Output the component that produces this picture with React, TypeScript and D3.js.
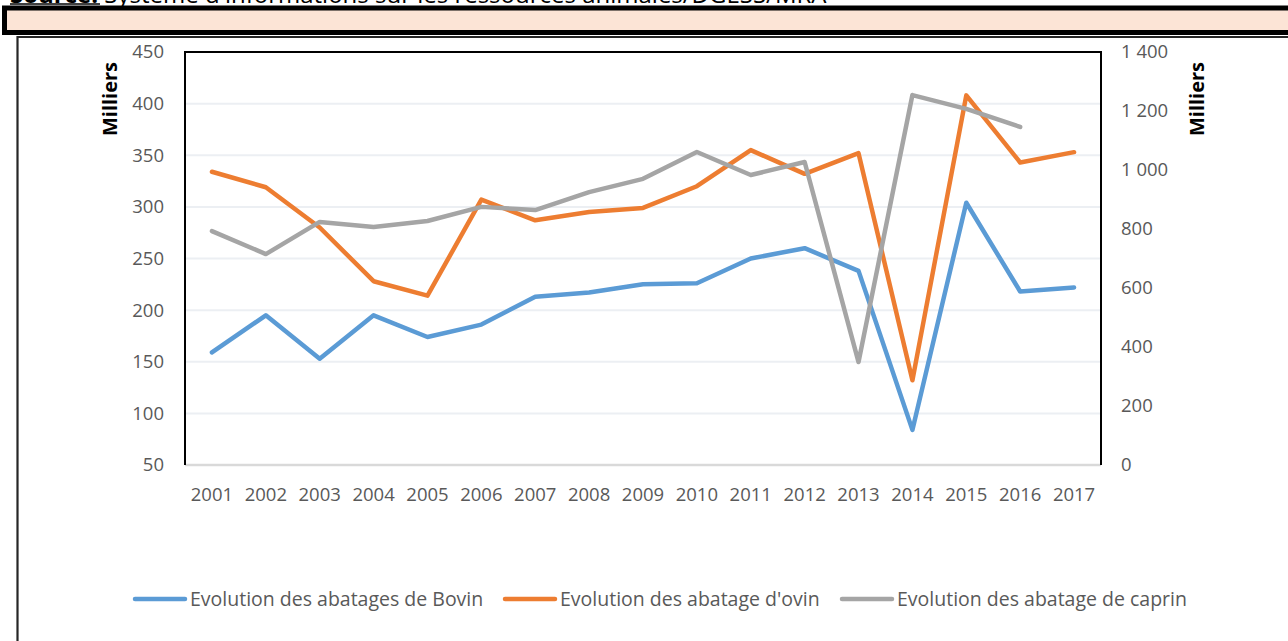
import React from "react";
import * as d3 from "d3";

const years = ["2001","2002","2003","2004","2005","2006","2007","2008","2009","2010","2011","2012","2013","2014","2015","2016","2017"];
const bovin = [159, 195, 153, 195, 174, 186, 213, 217, 225, 226, 250, 260, 238, 84, 304, 218, 222];
const ovin = [334, 319, 280, 228, 214, 307, 287, 295, 299, 320, 355, 332, 352, 132, 408, 343, 353];
const caprin: (number | null)[] = [793, 715, 824, 807, 827, 875, 864, 925, 970, 1061, 983, 1027, 349, 1254, 1207, 1146, null];
const leftTicks = [50, 100, 150, 200, 250, 300, 350, 400, 450];
const rightTicks = [0, 200, 400, 600, 800, 1000, 1200, 1400];
const seriesNames = ["Evolution des abatages de Bovin", "Evolution des abatage d'ovin", "Evolution des abatage de caprin"];
const colors = ["#5b9bd5", "#ed7d31", "#a5a5a5"];

const W = 1288, H = 641;
const PL = 185, PR = 1101, PT = 52, PB = 465;
const FONT = "'Open Sans', 'Noto Sans', sans-serif";

export default function App() {
  const x = d3.scaleBand<string>().domain(years).range([PL, PR]);
  const xc = (y: string) => (x(y) as number) + x.bandwidth() / 2;
  const yL = d3.scaleLinear().domain([50, 450]).range([PB, PT]);
  const yR = d3.scaleLinear().domain([0, 1400]).range([PB, PT]);

  const lineL = d3.line<number>().x((_, i) => xc(years[i])).y(v => yL(v));
  const lineR = d3.line<number | null>()
    .defined(v => v !== null)
    .x((_, i) => xc(years[i]))
    .y(v => yR(v as number));

  const fmt = (v: number) => d3.format(",")(v).replace(/,/g, " ");

  const legendItems = [
    { sx: 135, tx: 190 },
    { sx: 505, tx: 560 },
    { sx: 842, tx: 897 },
  ];

  return (
    <>
      <style>{"body{margin:0}"}</style>
      <svg width={W} height={H} style={{ display: "block", background: "#fff" }}>
        {/* source text (cut off at top, as in the original) */}
        <text x={10} y={3} fontFamily={FONT} fontSize={24} fill="#000">
          <tspan fontWeight="bold">Source:</tspan>
          <tspan> Système d'informations sur les ressources animales/DGESS/MRA</tspan>
        </text>
        <line x1={10} x2={100} y1={4} y2={4} stroke="#000" strokeWidth={1.5} />
        {/* peach box */}
        <rect x={4.5} y={8} width={W + 10} height={24.5} fill="#fce4d6" stroke="#000" strokeWidth={5} />
        {/* outer frame */}
        <path d={`M17.5,${H} V37 H${W}`} fill="none" stroke="#262626" strokeWidth={2.2} />

        {/* gridlines */}
        {leftTicks.slice(1).map(t => (
          <line key={"g" + t} x1={PL} x2={PR} y1={yL(t)} y2={yL(t)} stroke="#eceff3" strokeWidth={2} />
        ))}
        {/* bottom axis */}
        <line x1={PL} x2={PR} y1={PB} y2={PB} stroke="#d9d9d9" strokeWidth={2.5} />
        {/* plot border */}
        <path d={`M${PL},${PB} V${PT} H${PR} V${PB}`} fill="none" stroke="#000" strokeWidth={2} />

        {/* left ticks */}
        {leftTicks.map(t => (
          <text key={"l" + t} x={164} y={yL(t)} dy="0.35em" textAnchor="end" fontFamily={FONT} fontSize={18.5} fill="#595959">{t}</text>
        ))}
        {/* right ticks */}
        {rightTicks.map(t => (
          <text key={"r" + t} x={1121} y={yR(t)} dy="0.35em" textAnchor="start" fontFamily={FONT} fontSize={18.5} fill="#595959">{fmt(t)}</text>
        ))}
        {/* x ticks */}
        {years.map(yv => (
          <text key={"x" + yv} x={xc(yv)} y={495} dy="0.35em" textAnchor="middle" fontFamily={FONT} fontSize={18.5} fill="#595959">{yv}</text>
        ))}
        {/* axis titles */}
        <text transform={`translate(117,99) rotate(-90)`} textAnchor="middle" fontFamily={FONT} fontSize={20} fontWeight="bold" fill="#000">Milliers</text>
        <text transform={`translate(1204,99) rotate(-90)`} textAnchor="middle" fontFamily={FONT} fontSize={20} fontWeight="bold" fill="#000">Milliers</text>

        {/* lines */}
        <path d={lineL(bovin) || ""} fill="none" stroke={colors[0]} strokeWidth={4.5} strokeLinejoin="round" strokeLinecap="round" />
        <path d={lineL(ovin) || ""} fill="none" stroke={colors[1]} strokeWidth={4.5} strokeLinejoin="round" strokeLinecap="round" />
        <path d={lineR(caprin) || ""} fill="none" stroke={colors[2]} strokeWidth={4.5} strokeLinejoin="round" strokeLinecap="round" />

        {/* legend */}
        {legendItems.map((it, i) => (
          <g key={"lg" + i}>
            <line x1={it.sx} x2={it.sx + 50} y1={599} y2={599} stroke={colors[i]} strokeWidth={4.5} strokeLinecap="round" />
            <text x={it.tx} y={599} dy="0.35em" fontFamily={FONT} fontSize={19.5} fill="#595959">{seriesNames[i]}</text>
          </g>
        ))}
      </svg>
    </>
  );
}
